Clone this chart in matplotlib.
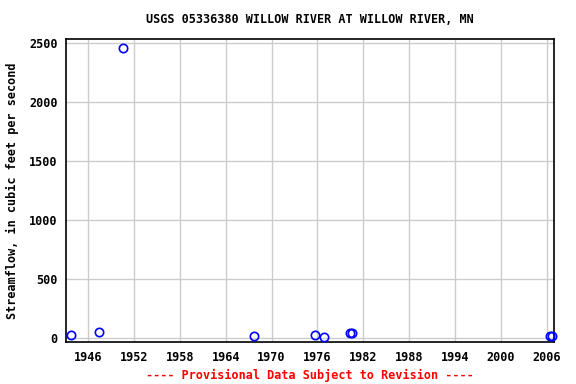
import numpy as np
import matplotlib
matplotlib.use('Agg')
import matplotlib.pyplot as plt

# values
years = [1943.7, 1947.4, 1950.5, 1967.7, 1975.7, 1976.8, 1980.3, 1980.5, 2006.5, 2006.7]
flow = [28, 56, 2458, 22, 28, 8, 42, 42, 19, 19]
xticks = [1946, 1952, 1958, 1964, 1970, 1976, 1982, 1988, 1994, 2000, 2006]
yticks = [0, 500, 1000, 1500, 2000, 2500]

plt.rcParams['font.family'] = 'DejaVu Sans Mono'
plt.rcParams['font.weight'] = 'bold'

fig = plt.figure(figsize=(5.76, 3.84), dpi=100)
ax = fig.add_axes([0.1146, 0.1086, 0.8477, 0.7891])

ax.plot(years, flow, linestyle='none', marker='o', markersize=6,
        markerfacecolor='none', markeredgecolor='#0000ff', markeredgewidth=1.2,
        clip_on=False, zorder=3)

ax.set_xlim(1943.1, 2007.0)
ax.set_ylim(-34, 2534)
ax.set_xticks(xticks)
ax.set_yticks(yticks)
ax.grid(True, color='#cccccc', linewidth=1)
ax.set_axisbelow(True)
ax.tick_params(length=0, labelsize=8.5, pad=6)
for lab in ax.get_xticklabels() + ax.get_yticklabels():
    lab.set_fontweight('bold')
for s in ax.spines.values():
    s.set_linewidth(1.2)

ax.set_title('USGS 05336380 WILLOW RIVER AT WILLOW RIVER, MN',
             fontsize=8.5, fontweight='bold', pad=12)
ax.set_ylabel('Streamflow, in cubic feet per second', fontsize=8.5,
              fontweight='bold', labelpad=7)
ax.text(0.5, -0.108, '---- Provisional Data Subject to Revision ----',
        transform=ax.transAxes, ha='center', va='center', color='red',
        fontsize=8.5, fontweight='bold')

fig.savefig('out.png', dpi=100)
